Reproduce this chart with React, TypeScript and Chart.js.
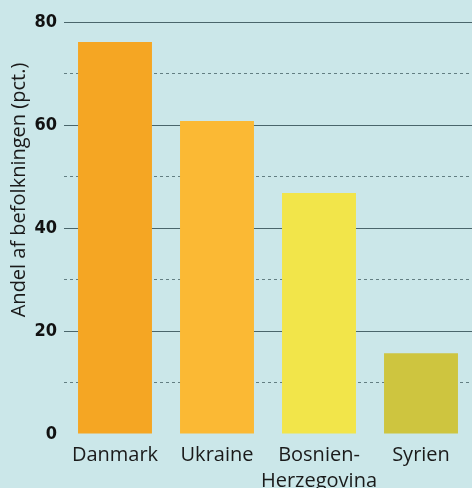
import React, { useEffect, useRef } from "react";
import { Chart, registerables } from "chart.js";

Chart.register(...registerables);

const categories: (string | string[])[] = ["Danmark", "Ukraine", ["Bosnien-", "Herzegovina"], "Syrien"];
const values: number[] = [76.1, 60.8, 46.8, 15.7];
const barColors: string[] = ["#f5a623", "#fbb934", "#f2e54a", "#cec53f"];
const yTitle = "Andel af befolkningen (pct.)";
const yMax = 80;
const yStep = 10;
const labelStep = 20;

const BG = "#cbe7e9";

const titlePlugin = {
  id: "sideTitle",
  afterDraw(chart: any) {
    const ctx = chart.ctx;
    ctx.save();
    ctx.translate(19, 190);
    ctx.rotate(-Math.PI / 2);
    ctx.font = "20px 'Open Sans'";
    ctx.fillStyle = "#1a1a1a";
    ctx.textAlign = "center";
    ctx.textBaseline = "middle";
    ctx.fillText(yTitle, 0, 0);
    ctx.restore();
  },
};

export default function App() {
  const ref = useRef<HTMLCanvasElement>(null);
  useEffect(() => {
    document.body.style.margin = "0";
    document.body.style.background = BG;
    const chart = new Chart(ref.current!, {
      type: "bar",
      data: {
        labels: categories as any,
        datasets: [
          {
            data: values,
            backgroundColor: barColors,
            barPercentage: 0.725,
            categoryPercentage: 1,
          },
        ],
      },
      options: {
        animation: false,
        responsive: true,
        maintainAspectRatio: false,
        layout: { padding: { top: 22, right: 0, left: 0, bottom: 0 } },
        plugins: { legend: { display: false }, tooltip: { enabled: false } },
        scales: {
          x: {
            grid: { display: false },
            border: { display: false },
            ticks: {
              color: "#1a1a1a",
              font: { family: "'Open Sans'", size: 20, lineHeight: 1.3 },
              padding: 0,
              maxRotation: 0,
              autoSkip: false,
            },
            afterFit(scale: any) {
              scale.height = 54;
            },
          },
          y: {
            min: 0,
            max: yMax,
            ticks: {
              stepSize: yStep,
              color: "#111",
              padding: 7,
              font: { family: "'DejaVu Sans Condensed'", size: 18, weight: "bold" },
              callback: (v: any) => (Number(v) % labelStep === 0 ? String(v) : ""),
            },
            grid: {
              drawTicks: false,
              lineWidth: 1,
              color: (c: any) =>
                c.tick && c.tick.value === 0
                  ? "rgba(0,0,0,0)"
                  : c.tick && c.tick.value % labelStep === 0
                  ? "#4a666b"
                  : "#627e82",
            },
            border: {
              display: false,
              dash: (c: any) => (c.tick && c.tick.value % labelStep === 0 ? [] : [3, 3]),
            },
            afterFit(scale: any) {
              scale.width = 64;
            },
          },
        },
      },
      plugins: [titlePlugin],
    });
    return () => chart.destroy();
  }, []);
  return (
    <div style={{ width: 472, height: 488, background: BG, position: "relative" }}>
      <canvas ref={ref} />
    </div>
  );
}
